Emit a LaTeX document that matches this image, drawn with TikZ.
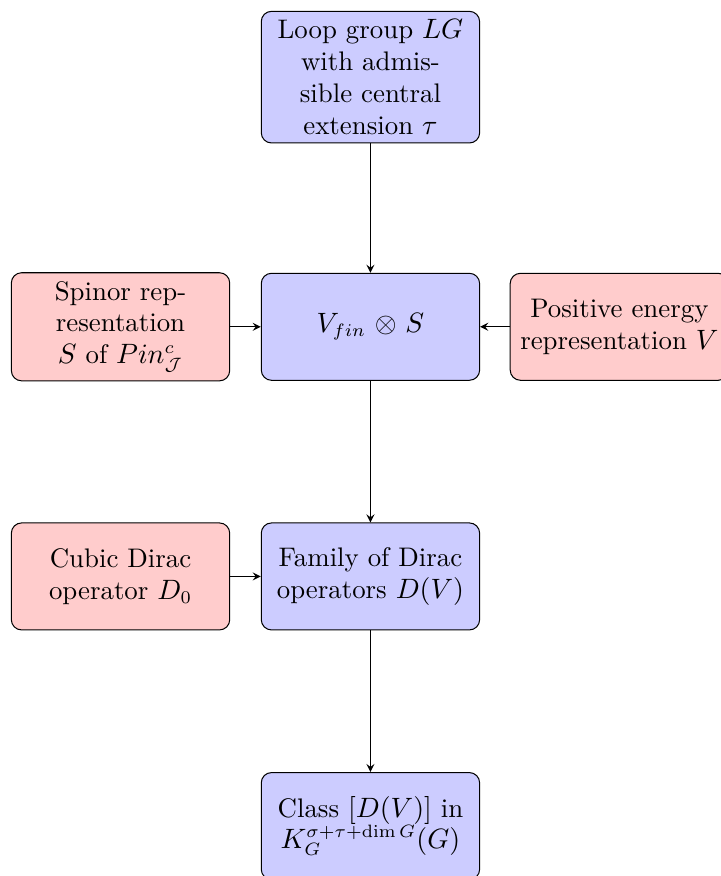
\documentclass[tikz,border=0pt]{standalone}
\usepackage{xcolor}
\usepackage{tikz}

\begin{document}
\begin{tikzpicture}
	\useasboundingbox (0, 0) rectangle (9.906, -12.036);

	\begin{scope}[
		block/.style={align=center, draw, rounded corners, font=\fontsize{10.5}{12.4}\selectfont, text width=2.7cm, minimum width=3cm, minimum height=1.47cm},
		blueblock/.style={block, fill=blue!20},
		redblock/.style={block, fill=red!20}]
		\node[blueblock] (LG) at (5.09, -1.06) {Loop group $LG$\\ with admis-\\sible central\\ extension $\tau$};
		\node[blueblock] (VS) at (5.09, -4.49) {$V_{fin} \otimes S$};
		\node[blueblock] (DV) at (5.09, -7.92) {Family of Dirac operators $D(V)$};
		\node[blueblock] (K) at (5.09, -11.35) {Class $[D(V)]$ in $K_G^{\sigma+\tau+\dim G}(G)$};

		\node[redblock] (Spin) at (1.656, -4.49) {Spinor representation $S$ of $Pin^c_{\mathcal{J}}$};
		\node[redblock, text width=2.9cm, inner xsep=0.05cm] (Pos) at (8.51, -4.49) {Positive energy\\ representation $V$};
		\node[redblock] (Cubic) at (1.656, -7.92) {Cubic Dirac operator $D_0$};
	\end{scope}

	\draw[-stealth] (LG) -- (VS);
	\draw[-stealth] (VS) -- (DV);
	\draw[-stealth] (DV) -- (K);

	\draw[-stealth] (Spin) -- (VS);
	\draw[-stealth] (Pos) -- (VS);
	\draw[-stealth] (Cubic) -- (DV);
\end{tikzpicture}
\end{document}
